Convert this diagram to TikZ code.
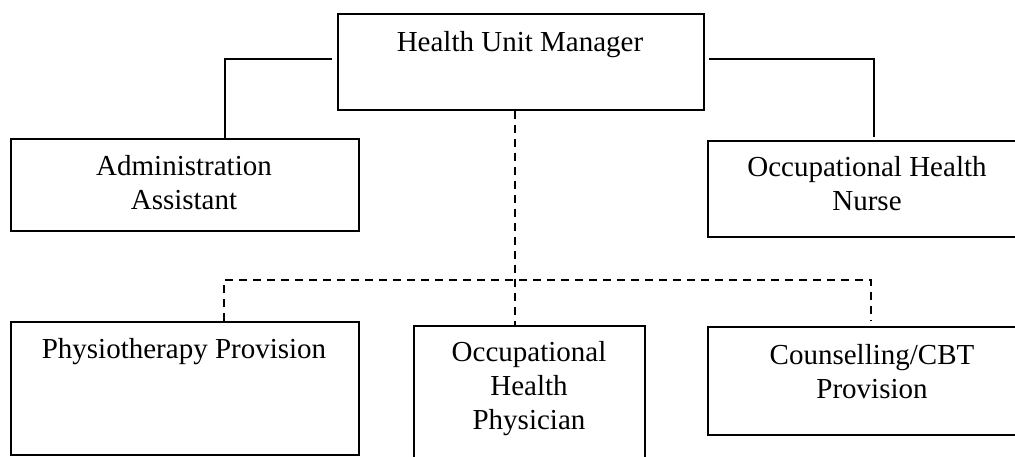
\documentclass[tikz,border=0pt]{standalone}
\usepackage{fontspec}
\setmainfont{Liberation Serif}

\tikzset{
  unitbox/.style={draw, line width=2pt, inner sep=0pt, anchor=north west},
  unittext/.style={font=\fontsize{29}{34}\selectfont, align=center, inner sep=0pt, anchor=base},
  link/.style={line width=1.8pt},
  dotlink/.style={link, dash pattern=on 8pt off 6pt}
}

\begin{document}
\begin{tikzpicture}[x=1pt, y=1pt]
        \path[use as bounding box, clip] (0,0) rectangle (1015,-457);

        % --- Cajas ---
        \node[unitbox, minimum width=366pt, minimum height=96pt]  (mgr)   at (337,-13)  {};
        \node[unitbox, minimum width=348pt, minimum height=92pt]  (admin) at (10,-138)  {};
        \node[unitbox, minimum width=320pt, minimum height=96pt]  (ohn)   at (707,-140) {};
        \node[unitbox, minimum width=348pt, minimum height=133pt] (phys)  at (10,-321)  {};
        \node[unitbox, minimum width=231pt, minimum height=150pt] (ohp)   at (413,-325) {};
        \node[unitbox, minimum width=320pt, minimum height=108pt] (cbt)   at (707,-326) {};

        % --- Textos (base = ultima linea) ---
        \node[unittext] (mgrText)   at (520,-52)  {Health Unit Manager};
        \node[unittext] (adminText) at (184,-210) {Administration\\Assistant};
        \node[unittext] (ohnText)   at (867,-211) {Occupational Health\\Nurse};
        \node[unittext] (physText)  at (184,-358) {Physiotherapy Provision};
        \node[unittext] (ohpText)   at (529,-429) {Occupational\\Health\\Physician};
        \node[unittext] (cbtText)   at (872,-398) {Counselling/CBT\\Provision};

        % --- Puntos de paso ---
        \coordinate (adminDrop) at (225,-138);
        \coordinate (ohnDrop)   at (874,-137);
        \coordinate (busL) at (224,-280);
        \coordinate (busM) at (515,-280);
        \coordinate (busR) at (871,-280);

        % --- Lineas continuas ---
        \draw[link] ([xshift=-5pt, yshift=3pt]mgr.west) -| (adminDrop);
        \draw[link] ([xshift=4pt, yshift=3pt]mgr.east) -| (ohnDrop);

        % --- Lineas discontinuas ---
        \draw[dotlink] (mgr.south -| busM) -- (busM |- ohp.north);
        \draw[dotlink] (busL |- phys.north) |- (busR) -- ([yshift=5pt]busR |- cbt.north);

    \end{tikzpicture}
\end{document}
